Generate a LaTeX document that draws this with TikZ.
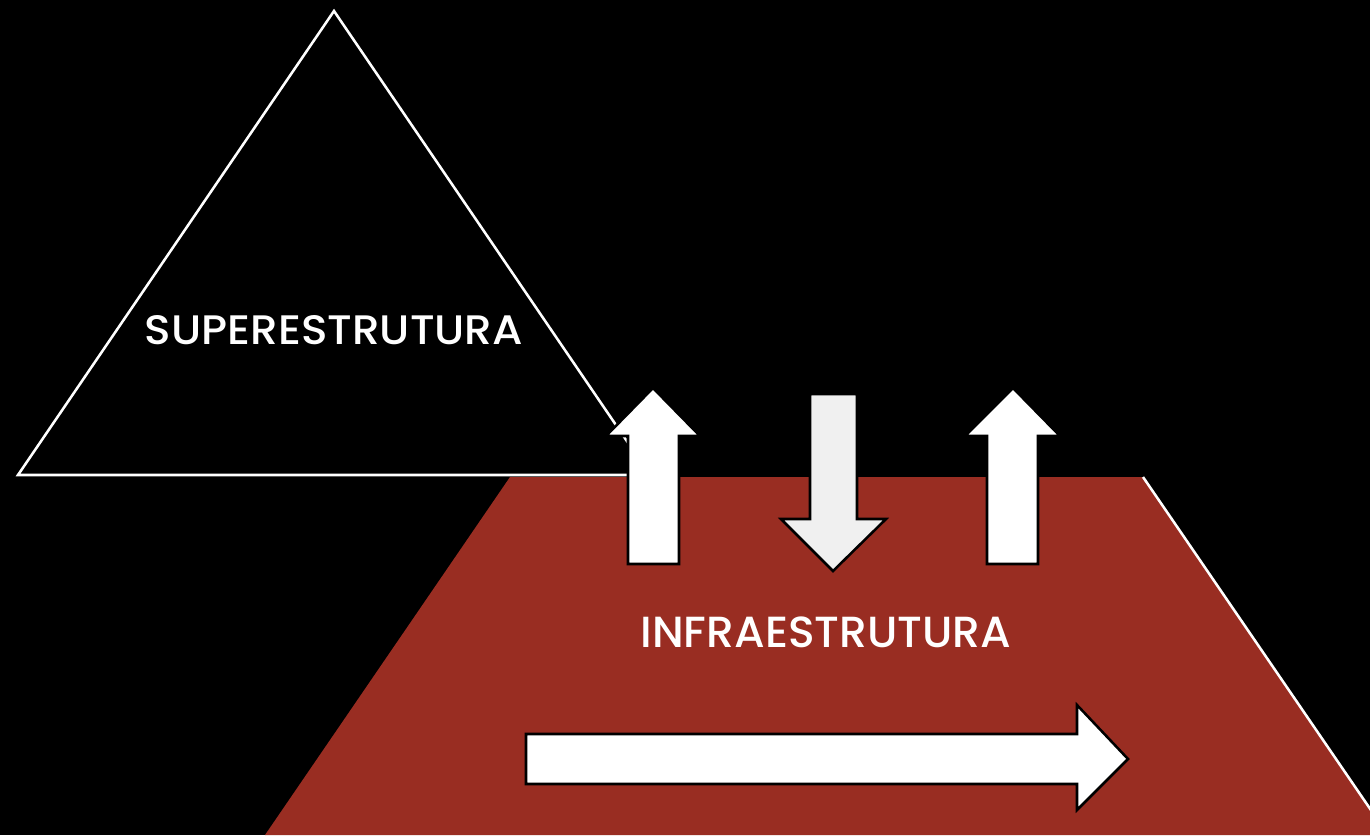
\documentclass[tikz,border=0pt]{standalone}
\usepackage{fontspec}
\setmainfont{Poppins Medium}
\definecolor{infrared}{RGB}{153,45,34}
\definecolor{paleg}{RGB}{240,240,240}
\tikzset{
  px/.style={x=0.75pt,y=-0.75pt},
  outlinew/.style={draw=white,line width=1.9pt,line join=miter},
  blockarrow/.style={fill=white,draw=black,line width=1.9pt,line join=miter},
  label/.style={text=white,inner sep=0pt,anchor=center}
}
\begin{document}
\begin{tikzpicture}[px]
\fill[black] (0,0) rectangle (1370,835);
\useasboundingbox (0,0) rectangle (1370,835);
% superstructure triangle
\draw[outlinew] (334,11) -- (650,475) -- (18,475) -- cycle;
% infrastructure trapezoid
\fill[infrared] (510,477) -- (1143,477) -- (1388,835) -- (265,835) -- cycle;
\draw[draw=white,line width=1.9pt] (1143,477) -- (1388,835);
% up arrows
\draw[blockarrow] (628,564) -- (628,436) -- (606,436) -- (653,388) -- (700,436) -- (679,436) -- (679,564) -- cycle;
\draw[blockarrow] (987,564) -- (987,436) -- (965,436) -- (1013,388) -- (1060,436) -- (1038,436) -- (1038,564) -- cycle;
% down arrow
\draw[blockarrow,fill=paleg] (810,394) -- (857,394) -- (857,519) -- (886,519) -- (833,571) -- (781,519) -- (810,519) -- cycle;
% right arrow
\draw[blockarrow] (526,734) -- (1077,734) -- (1077,705) -- (1128,759) -- (1077,810) -- (1077,784) -- (526,784) -- cycle;
% labels
\node[label] (super) at (334,330) {\resizebox{283.5pt}{21.75pt}{SUPERESTRUTURA}};
\node[label] (infra) at (826,632) {\resizebox{278pt}{23pt}{INFRAESTRUTURA}};
\end{tikzpicture}
\end{document}
